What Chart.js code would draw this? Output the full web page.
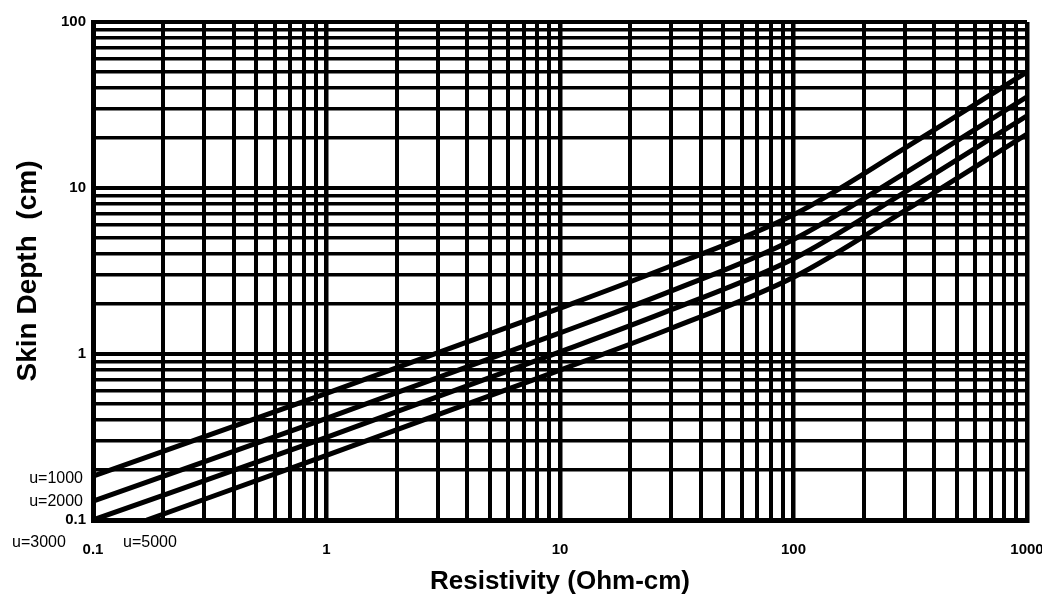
<!DOCTYPE html>
<html>
<head>
<meta charset="utf-8">
<script src="https://cdn.jsdelivr.net/npm/chart.js@4"></script>
<style>
  body { margin: 0; background: #fff; }
  canvas { display: block; }
</style>
</head>
<body>
<canvas id="skinChart" width="1042" height="603"></canvas>
<script>
// values
const resistivity = [0.1, 1, 10, 30, 100, 300, 1000];
const resistivity5000 = [0.17, 1, 10, 30, 100, 300, 1000];
const depthU1000 = [0.184, 0.58, 1.89, 3.4, 6.9, 17.4, 50];
const depthU2000 = [0.13, 0.41, 1.34, 2.4, 4.9, 12.3, 35.4];
const depthU3000 = [0.1, 0.315, 1.03, 1.85, 3.75, 9.45, 27.2];
const depthU5000 = [0.1, 0.245, 0.8, 1.43, 2.9, 7.3, 21.1];

const xTickLabels = ['0.1', '1', '10', '100', '1000'];
const yTickLabels = ['0.1', '1', '10', '100'];
const seriesLabels = ['u=1000', 'u=2000', 'u=3000', 'u=5000'];

const FONT = '"Liberation Sans", Arial, sans-serif';

function pts(xs, ys) {
  return xs.map((x, i) => ({ x: x, y: ys[i] }));
}

// grid lines at 1..9 of every decade
function logTicks(min, max) {
  const out = [];
  for (let d = min; d < max; d *= 10) {
    for (let k = 1; k < 10; k++) out.push({ value: +(k * d).toPrecision(3) });
  }
  out.push({ value: max });
  return out;
}

// the u= labels near the lower left corner
const curveLabels = {
  id: 'curveLabels',
  afterDraw(chart) {
    const ctx = chart.ctx;
    ctx.save();
    ctx.fillStyle = '#000';
    ctx.font = '16px ' + FONT;
    ctx.textBaseline = 'middle';
    ctx.textAlign = 'right';
    ctx.fillText(seriesLabels[0], 83, 479);
    ctx.fillText(seriesLabels[1], 83, 502);
    ctx.textAlign = 'left';
    ctx.fillText(seriesLabels[2], 12, 543);
    ctx.fillText(seriesLabels[3], 123, 543);
    ctx.restore();
  }
};

const lineStyle = {
  borderColor: '#000',
  borderWidth: 5,
  pointRadius: 0,
  fill: false,
  cubicInterpolationMode: 'monotone'
};

new Chart(document.getElementById('skinChart'), {
  type: 'line',
  data: {
    datasets: [
      Object.assign({ label: seriesLabels[0], data: pts(resistivity, depthU1000) }, lineStyle),
      Object.assign({ label: seriesLabels[1], data: pts(resistivity, depthU2000) }, lineStyle),
      Object.assign({ label: seriesLabels[2], data: pts(resistivity, depthU3000) }, lineStyle),
      Object.assign({ label: seriesLabels[3], data: pts(resistivity5000, depthU5000) }, lineStyle)
    ]
  },
  options: {
    responsive: false,
    animation: false,
    layout: { padding: { top: 22, right: 15, left: 0, bottom: 0 } },
    plugins: { legend: { display: false }, tooltip: { enabled: false } },
    scales: {
      x: {
        type: 'logarithmic',
        min: 0.1,
        max: 1000,
        afterBuildTicks: s => { s.ticks = logTicks(0.1, 1000); },
        afterFit: s => { s.height = 83; s.paddingLeft = 0; s.paddingRight = 0; },
        border: { display: true, color: '#000', width: 5 },
        grid: {
          color: '#000',
          drawTicks: false,
          lineWidth: c => (c.tick && xTickLabels.includes(String(c.tick.value)) ? 4.5 : 4)
        },
        ticks: {
          autoSkip: false,
          maxRotation: 0,
          padding: 21,
          color: '#000',
          font: { family: FONT, size: 15, weight: 'bold' },
          callback: v => (xTickLabels.includes(String(v)) ? String(v) : '')
        },
        title: {
          display: true,
          text: 'Resistivity (Ohm-cm)',
          color: '#000',
          font: { family: FONT, size: 26, weight: 'bold', lineHeight: 1 },
          padding: { top: 0, bottom: 8 }
        }
      },
      y: {
        type: 'logarithmic',
        min: 0.1,
        max: 100,
        afterBuildTicks: s => { s.ticks = logTicks(0.1, 100); },
        afterFit: s => { s.width = 93; s.paddingTop = 0; s.paddingBottom = 0; },
        border: { display: true, color: '#000', width: 5 },
        grid: {
          color: '#000',
          drawTicks: false,
          lineWidth: c => (c.tick && yTickLabels.includes(String(c.tick.value)) ? 4 : 3.5)
        },
        ticks: {
          autoSkip: false,
          padding: 7,
          color: '#000',
          font: { family: FONT, size: 15, weight: 'bold' },
          callback: v => (yTickLabels.includes(String(v)) ? String(v) : '')
        },
        title: {
          display: true,
          text: 'Skin Depth  (cm)',
          color: '#000',
          font: { family: FONT, size: 28, weight: 'bold', lineHeight: 1 },
          padding: { top: 14, bottom: 0 }
        }
      }
    }
  },
  plugins: [curveLabels]
});
</script>
</body>
</html>
